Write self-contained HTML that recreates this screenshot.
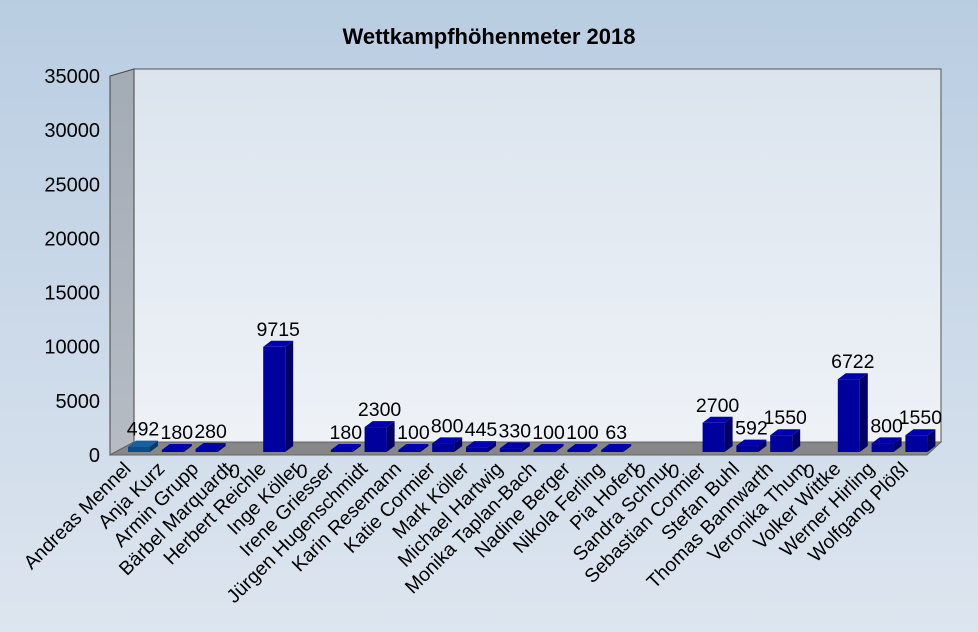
<!DOCTYPE html>
<html><head><meta charset="utf-8"><style>
html,body{margin:0;padding:0;width:978px;height:632px;overflow:hidden}
svg{display:block;font-family:"Liberation Sans",sans-serif}
</style></head><body>
<svg id="s" width="978" height="632" xmlns="http://www.w3.org/2000/svg">
<defs>
<linearGradient id="bg" x1="0" y1="0" x2="0" y2="1"><stop offset="0" stop-color="#b9cde2"/><stop offset="1" stop-color="#dde5ef"/></linearGradient>
<linearGradient id="wall" x1="0" y1="0" x2="0" y2="1"><stop offset="0" stop-color="#dbe4ee"/><stop offset="1" stop-color="#eef2f7"/></linearGradient>
<linearGradient id="lw" x1="0" y1="0" x2="0" y2="1"><stop offset="0" stop-color="#a3abb5"/><stop offset="1" stop-color="#b6bcc4"/></linearGradient>
</defs>
<rect width="978" height="632" fill="url(#bg)"/>
<text x="489" y="44" text-anchor="middle" font-size="22" font-weight="bold">Wettkampfhöhenmeter 2018</text>
<polygon points="134,69 941,69 941,442 134,442" fill="url(#wall)" stroke="#555" stroke-width="1"/>
<polygon points="110,76 134,69 134,442 110,455" fill="url(#lw)" stroke="#444" stroke-width="1"/>
<polygon points="110,455 134,442 941,442 927,455" fill="#878787" stroke="#666" stroke-width="1"/>
<g id="g"></g>
</svg>
<script>
var names=["Andreas Mennel","Anja Kurz","Armin Grupp","Bärbel Marquardt","Herbert Reichle","Inge Köller","Irene Griesser","Jürgen Hugenschmidt","Karin Resemann","Katie Cormier","Mark Köller","Michael Hartwig","Monika Taplan-Bach","Nadine Berger","Nikola Ferling","Pia Hofert","Sandra Schnur","Sebastian Cormier","Stefan Buhl","Thomas Bannwarth","Veronika Thum","Volker Wittke","Werner Hirling","Wolfgang Plößl"];
var vals=[492,180,280,0,9715,0,180,2300,100,800,445,330,100,100,63,0,0,2700,592,1550,0,6722,800,1550];
var g=document.getElementById('g'),h='';
var ticks=[0,5000,10000,15000,20000,25000,30000,35000];
ticks.forEach(function(t){var y=455-t*379/35000;h+='<text x="100" y="'+(y+7)+'" text-anchor="end" font-size="20">'+t+'</text>';});
var k=0.01083;
for(var i=0;i<24;i++){
 var cx=140+i*33.8, v=vals[i], hh=Math.max(v*k,2), x0=cx-12, w=22, yb=452, yt=yb-hh;
 var c=i==0?'#0a4d8c':'#00009c', ct=i==0?'#1860a0':'#0000b0', cs=i==0?'#063a6a':'#000066';
 if(v>0){
  h+='<polygon points="'+(x0+w)+','+yb+' '+(x0+w+8)+','+(yb-6)+' '+(x0+w+8)+','+(yt-6)+' '+(x0+w)+','+yt+'" fill="'+cs+'"/>';
  h+='<polygon points="'+x0+','+yt+' '+(x0+8)+','+(yt-6)+' '+(x0+w+8)+','+(yt-6)+' '+(x0+w)+','+yt+'" fill="'+ct+'"/>';
  h+='<rect x="'+x0+'" y="'+yt+'" width="'+w+'" height="'+hh+'" fill="'+c+'"/>';
  h+='<text x="'+(cx+3)+'" y="'+(yt-11)+'" text-anchor="middle" font-size="19.5">'+v+'</text>';
 } else {
  h+='<text x="'+(cx-7)+'" y="478" text-anchor="middle" font-size="19.5">0</text>';
 }
 h+='<text transform="translate('+(cx-8)+',470) rotate(-45)" text-anchor="end" font-size="19.5">'+names[i]+'</text>';
}
g.innerHTML=h;
</script>
</body></html>
